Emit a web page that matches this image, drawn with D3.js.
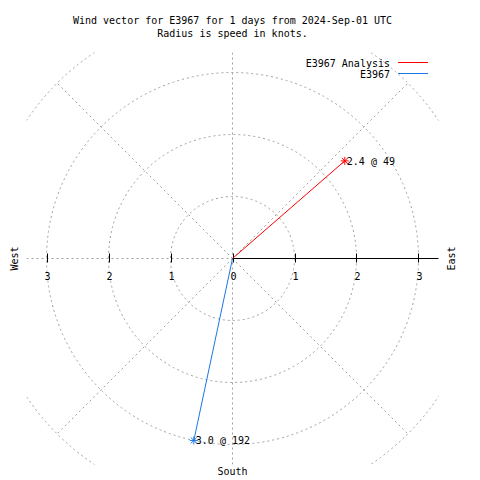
<!DOCTYPE html>
<html><head><meta charset="utf-8">
<script src="https://cdn.jsdelivr.net/npm/d3@7"></script>
<style>
body{margin:0;background:#fff;}
text{font-family:"DejaVu Sans Mono",monospace;font-size:10px;fill:#000;}
</style></head>
<body><svg id="c" width="480" height="480"></svg>
<script>
const titleLines = ["Wind vector for E3967 for 1 days from 2024-Sep-01 UTC", "Radius is speed in knots."];
const seriesNames = ["E3967 Analysis", "E3967"];
const speeds = [2.4, 3.0];
const directions = [49, 192];
const seriesColors = ["#ff0000", "#1a78e6"];
const rings = [1, 2, 3, 4];
const spokes = [45, 135, 225, 315];
const eastTicks = [0, 1, 2, 3];
const westTicks = [1, 2, 3];
const compass = ["West", "East", "South"];

const svg = d3.select("#c");
const cx = 232.5, cy = 258.5;
const rMax = 206 / 62;
const r = d3.scaleLinear().domain([0, 1]).range([0, 62]);
const x = d3.scaleLinear().domain([-rMax, rMax]).range([cx - r(rMax), cx + r(rMax)]);
const y = d3.scaleLinear().domain([-rMax, rMax]).range([cy + r(rMax), cy - r(rMax)]);
const grid = "#a0a0a0";

svg.append("clipPath").attr("id","clip").append("rect")
  .attr("x", x(-rMax)).attr("y", y(rMax)).attr("width", x(rMax)-x(-rMax)).attr("height", y(-rMax)-y(rMax));

const g = svg.append("g").attr("clip-path","url(#clip)");
// rings
g.selectAll("circle.ring").data(rings).join("circle")
  .attr("cx", cx).attr("cy", cy).attr("r", d => r(d))
  .attr("fill","none").attr("stroke", grid).attr("stroke-dasharray","2,3");
// diagonal spokes
const pt = (spd, deg) => [x(spd*Math.sin(deg*Math.PI/180)), y(spd*Math.cos(deg*Math.PI/180))];
g.selectAll("line.spoke").data(spokes).join("line")
  .attr("x1", cx).attr("y1", cy)
  .attr("x2", d => pt(4, d)[0]).attr("y2", d => pt(4, d)[1])
  .attr("stroke", grid).attr("stroke-dasharray","2,3");
// vertical dotted axis
g.append("line").attr("x1", cx).attr("x2", cx).attr("y1", y(rMax)).attr("y2", y(-rMax))
  .attr("stroke", grid).attr("stroke-dasharray","2,3");
// west dotted axis
g.append("line").attr("x1", x(-rMax)).attr("x2", cx).attr("y1", cy).attr("y2", cy)
  .attr("stroke", grid).attr("stroke-dasharray","2,3");
// east solid axis
svg.append("line").attr("x1", cx).attr("x2", x(rMax)).attr("y1", cy).attr("y2", cy)
  .attr("stroke", "#000");
// ticks
svg.selectAll("line.et").data(eastTicks).join("line")
  .attr("x1", d => Math.round(x(d))+0.5).attr("x2", d => Math.round(x(d))+0.5)
  .attr("y1", cy-5).attr("y2", cy+4).attr("stroke","#000");
svg.selectAll("line.wt").data(westTicks).join("line")
  .attr("x1", d => Math.round(x(-d))+0.5).attr("x2", d => Math.round(x(-d))+0.5)
  .attr("y1", cy-5).attr("y2", cy+4).attr("stroke","#000");
// tick labels
svg.selectAll("text.el").data(eastTicks).join("text")
  .attr("x", d => x(d)+1).attr("y", 280).attr("text-anchor","middle").text(d => d);
svg.selectAll("text.wl").data(westTicks).join("text")
  .attr("x", d => x(-d)+1).attr("y", 280).attr("text-anchor","middle").text(d => d);

// vectors
const vecs = speeds.map((s,i) => ({s, d: directions[i], c: seriesColors[i], name: seriesNames[i]}));
svg.selectAll("line.vec").data(vecs).join("line")
  .attr("x1", cx).attr("y1", cy)
  .attr("x2", d => pt(d.s, d.d)[0]).attr("y2", d => pt(d.s, d.d)[1])
  .attr("stroke", d => d.c).attr("stroke-width", 1);
vecs.forEach(v => {
  const [px, py] = pt(v.s, v.d);
  const h = 4;
  const p = d3.path();
  p.moveTo(px-h, py); p.lineTo(px+h, py);
  p.moveTo(px, py-h); p.lineTo(px, py+h);
  p.moveTo(px-3, py-3); p.lineTo(px+3, py+3);
  p.moveTo(px-3, py+3); p.lineTo(px+3, py-3);
  svg.append("path").attr("d", p.toString()).attr("stroke", v.c).attr("fill","none");
  svg.append("text").attr("x", px+2).attr("y", py+4)
    .text(v.s.toFixed(1) + " @ " + v.d);
});

// titles
svg.selectAll("text.title").data(titleLines).join("text")
  .attr("x", cx).attr("y", (d,i) => 24 + i*13).attr("text-anchor","middle").text(d => d);

// legend
seriesNames.forEach((n,i) => {
  const ly = 67 + i*11;
  svg.append("text").attr("x", 390).attr("y", ly).attr("text-anchor","end").text(n);
  svg.append("line").attr("x1", 398).attr("x2", 428).attr("y1", ly-4.5).attr("y2", ly-4.5)
    .attr("stroke", seriesColors[i]);
});

// compass labels
svg.append("text").attr("transform", `translate(18,${cy}) rotate(-90)`).attr("text-anchor","middle").text(compass[0]);
svg.append("text").attr("transform", `translate(455,${cy}) rotate(-90)`).attr("text-anchor","middle").text(compass[1]);
svg.append("text").attr("x", cx).attr("y", 475).attr("text-anchor","middle").text(compass[2]);
</script></body></html>
